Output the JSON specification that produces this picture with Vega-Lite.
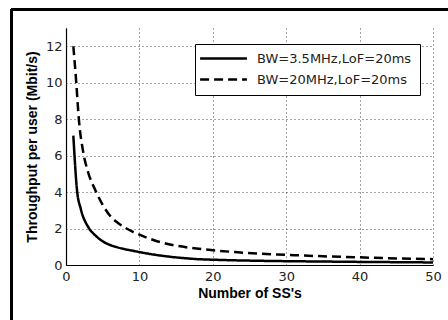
{
  "$schema": "https://vega.github.io/schema/vega-lite/v6.json",
  "width": 367,
  "height": 237,
  "autosize": {"type": "none"},
  "padding": {"left": 66, "top": 28, "right": 15, "bottom": 55},
  "background": "white",
  "config": {
    "view": {"stroke": null},
    "font": "DejaVu Sans",
    "axis": {
      "domainColor": "black",
      "domainWidth": 1.2,
      "tickColor": "black",
      "labelColor": "#222",
      "labelFont": "DejaVu Sans",
      "labelFontSize": 13,
      "titleFont": "Liberation Sans",
      "titleFontSize": 14,
      "titleFontWeight": "bold",
      "titleColor": "black",
      "gridColor": "#333",
      "gridDash": [1, 3],
      "gridOpacity": 0.9,
      "gridWidth": 1
    }
  },
  "data": {
    "values": [
      {"n": 1, "t": 7.1, "s": "BW=3.5MHz,LoF=20ms"},
      {"n": 1.5, "t": 4.1, "s": "BW=3.5MHz,LoF=20ms"},
      {"n": 2, "t": 3.1, "s": "BW=3.5MHz,LoF=20ms"},
      {"n": 3, "t": 2.1, "s": "BW=3.5MHz,LoF=20ms"},
      {"n": 4, "t": 1.62, "s": "BW=3.5MHz,LoF=20ms"},
      {"n": 5, "t": 1.3, "s": "BW=3.5MHz,LoF=20ms"},
      {"n": 6, "t": 1.1, "s": "BW=3.5MHz,LoF=20ms"},
      {"n": 7, "t": 0.97, "s": "BW=3.5MHz,LoF=20ms"},
      {"n": 8, "t": 0.87, "s": "BW=3.5MHz,LoF=20ms"},
      {"n": 9, "t": 0.79, "s": "BW=3.5MHz,LoF=20ms"},
      {"n": 10, "t": 0.71, "s": "BW=3.5MHz,LoF=20ms"},
      {"n": 12, "t": 0.57, "s": "BW=3.5MHz,LoF=20ms"},
      {"n": 14, "t": 0.46, "s": "BW=3.5MHz,LoF=20ms"},
      {"n": 16, "t": 0.38, "s": "BW=3.5MHz,LoF=20ms"},
      {"n": 18, "t": 0.32, "s": "BW=3.5MHz,LoF=20ms"},
      {"n": 20, "t": 0.29, "s": "BW=3.5MHz,LoF=20ms"},
      {"n": 25, "t": 0.24, "s": "BW=3.5MHz,LoF=20ms"},
      {"n": 30, "t": 0.21, "s": "BW=3.5MHz,LoF=20ms"},
      {"n": 35, "t": 0.19, "s": "BW=3.5MHz,LoF=20ms"},
      {"n": 40, "t": 0.17, "s": "BW=3.5MHz,LoF=20ms"},
      {"n": 45, "t": 0.155, "s": "BW=3.5MHz,LoF=20ms"},
      {"n": 50, "t": 0.14, "s": "BW=3.5MHz,LoF=20ms"},
      {"n": 1, "t": 12.0, "s": "BW=20MHz,LoF=20ms"},
      {"n": 1.4, "t": 10.0, "s": "BW=20MHz,LoF=20ms"},
      {"n": 1.75, "t": 8.0, "s": "BW=20MHz,LoF=20ms"},
      {"n": 2.3, "t": 6.3, "s": "BW=20MHz,LoF=20ms"},
      {"n": 3, "t": 5.1, "s": "BW=20MHz,LoF=20ms"},
      {"n": 4, "t": 4.1, "s": "BW=20MHz,LoF=20ms"},
      {"n": 5, "t": 3.3, "s": "BW=20MHz,LoF=20ms"},
      {"n": 6, "t": 2.7, "s": "BW=20MHz,LoF=20ms"},
      {"n": 7, "t": 2.33, "s": "BW=20MHz,LoF=20ms"},
      {"n": 8, "t": 2.06, "s": "BW=20MHz,LoF=20ms"},
      {"n": 9, "t": 1.85, "s": "BW=20MHz,LoF=20ms"},
      {"n": 10, "t": 1.67, "s": "BW=20MHz,LoF=20ms"},
      {"n": 11, "t": 1.5, "s": "BW=20MHz,LoF=20ms"},
      {"n": 12, "t": 1.36, "s": "BW=20MHz,LoF=20ms"},
      {"n": 14, "t": 1.14, "s": "BW=20MHz,LoF=20ms"},
      {"n": 17, "t": 0.94, "s": "BW=20MHz,LoF=20ms"},
      {"n": 20, "t": 0.81, "s": "BW=20MHz,LoF=20ms"},
      {"n": 23, "t": 0.71, "s": "BW=20MHz,LoF=20ms"},
      {"n": 26, "t": 0.63, "s": "BW=20MHz,LoF=20ms"},
      {"n": 30, "t": 0.56, "s": "BW=20MHz,LoF=20ms"},
      {"n": 35, "t": 0.48, "s": "BW=20MHz,LoF=20ms"},
      {"n": 40, "t": 0.42, "s": "BW=20MHz,LoF=20ms"},
      {"n": 45, "t": 0.36, "s": "BW=20MHz,LoF=20ms"},
      {"n": 50, "t": 0.32, "s": "BW=20MHz,LoF=20ms"}
    ]
  },
  "layer": [
    {
      "mark": {"type": "line", "color": "black", "strokeWidth": 2.5, "interpolate": "monotone"},
      "encoding": {
        "x": {
          "field": "n",
          "type": "quantitative",
          "scale": {"domain": [0, 50], "nice": false},
          "axis": {"values": [0, 10, 20, 30, 40, 50], "title": "Number of SS's", "grid": true, "tickSize": 0, "labelPadding": 5, "titlePadding": 3, "labelFlush": false}
        },
        "y": {
          "field": "t",
          "type": "quantitative",
          "scale": {"domain": [0, 13], "nice": false},
          "axis": {"values": [0, 2, 4, 6, 8, 10, 12], "title": "Throughput per user (Mbit/s)", "grid": true, "tickSize": 0, "labelPadding": 4, "titlePadding": 6, "labelOverlap": false}
        },
        "strokeDash": {
          "field": "s",
          "type": "nominal",
          "sort": ["BW=3.5MHz,LoF=20ms", "BW=20MHz,LoF=20ms"],
          "scale": {"domain": ["BW=3.5MHz,LoF=20ms", "BW=20MHz,LoF=20ms"], "range": [[1, 0], [9, 5]]},
          "legend": {
            "title": null,
            "orient": "none",
            "legendX": 129,
            "legendY": 16,
            "fillColor": "white",
            "strokeColor": "black",
            "padding": 8,
            "symbolType": "M-5.2,0H5.2",
            "symbolSize": 81,
            "symbolStrokeWidth": 2.5,
            "symbolStrokeColor": "black",
            "symbolOffset": 14,
            "labelFont": "DejaVu Sans",
            "labelFontSize": 13,
            "labelColor": "#222",
            "rowPadding": 7,
            "labelOffset": 27
          }
        }
      }
    },
    {
      "mark": {"type": "rule", "color": "black", "strokeWidth": 2},
      "encoding": {
        "x": {"datum": -7.4, "type": "quantitative", "axis": {"values": [0, 10, 20, 30, 40, 50], "title": "Number of SS's", "grid": true, "tickSize": 0, "labelPadding": 5, "titlePadding": 3, "labelFlush": false}},
        "y": {"datum": 14.0, "type": "quantitative", "axis": {"values": [0, 2, 4, 6, 8, 10, 12], "title": "Throughput per user (Mbit/s)", "grid": true, "tickSize": 0, "labelPadding": 4, "titlePadding": 6, "labelOverlap": false}},
        "y2": {"datum": -4}
      }
    },
    {
      "mark": {"type": "rule", "color": "black", "strokeWidth": 2},
      "encoding": {
        "x": {"datum": -7.4, "type": "quantitative", "axis": {"values": [0, 10, 20, 30, 40, 50], "title": "Number of SS's", "grid": true, "tickSize": 0, "labelPadding": 5, "titlePadding": 3, "labelFlush": false}},
        "x2": {"datum": 60},
        "y": {"datum": 14.0, "type": "quantitative", "axis": {"values": [0, 2, 4, 6, 8, 10, 12], "title": "Throughput per user (Mbit/s)", "grid": true, "tickSize": 0, "labelPadding": 4, "titlePadding": 6, "labelOverlap": false}}
      }
    }
  ]
}
